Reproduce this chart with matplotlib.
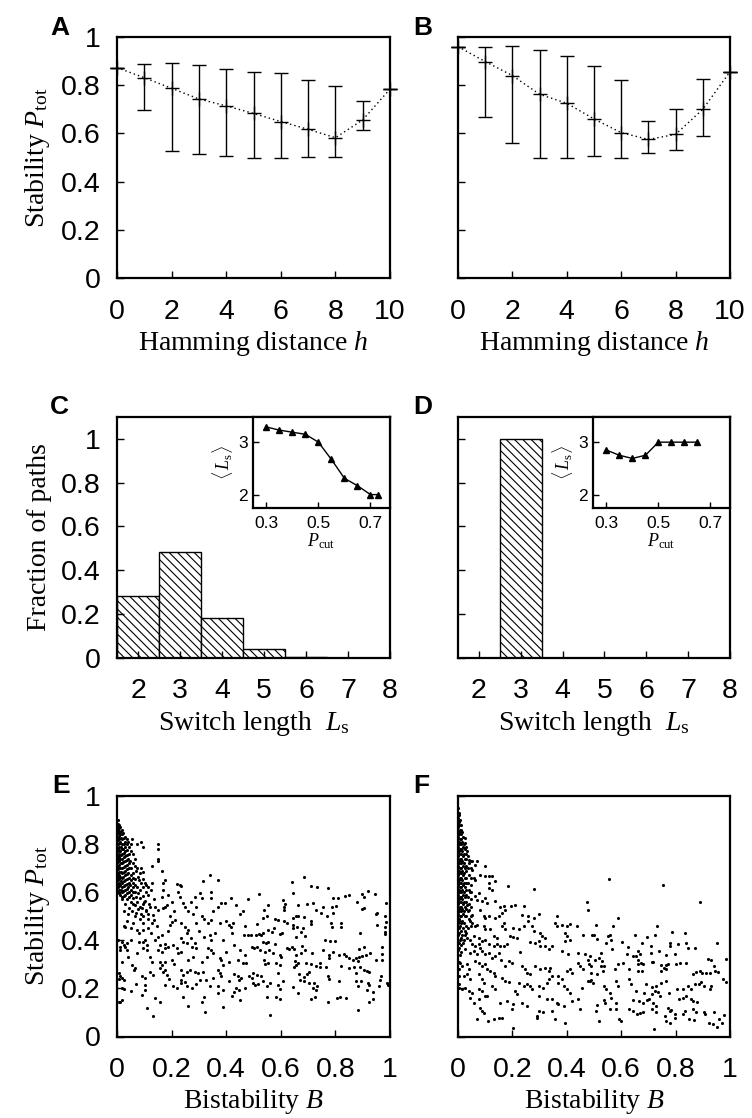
import numpy as np
import matplotlib
matplotlib.use("Agg")
import matplotlib.pyplot as plt

plt.rcParams['font.family'] = ['Liberation Sans', 'DejaVu Sans']
plt.rcParams['mathtext.fontset'] = 'custom'
plt.rcParams['mathtext.rm'] = 'Liberation Serif'
plt.rcParams['mathtext.it'] = 'Liberation Serif:italic'
plt.rcParams['hatch.linewidth'] = 0.8

# ---- data ----
hamming = [0, 1, 2, 3, 4, 5, 6, 7, 8, 9, 10]
a_mean = [0.873, 0.831, 0.787, 0.743, 0.714, 0.683, 0.649, 0.617, 0.582, 0.656, 0.784]
a_top = [0.873, 0.888, 0.893, 0.884, 0.867, 0.856, 0.852, 0.822, 0.798, 0.736, 0.784]
a_bot = [0.873, 0.697, 0.528, 0.515, 0.508, 0.499, 0.497, 0.503, 0.503, 0.614, 0.784]
b_mean = [0.960, 0.898, 0.840, 0.762, 0.725, 0.660, 0.603, 0.575, 0.596, 0.700, 0.856]
b_top = [0.960, 0.960, 0.964, 0.946, 0.921, 0.881, 0.822, 0.651, 0.700, 0.827, 0.856]
b_bot = [0.960, 0.667, 0.561, 0.497, 0.497, 0.506, 0.499, 0.517, 0.531, 0.589, 0.856]

switch_len = [2, 3, 4, 5, 6, 7]
c_frac = [0.283, 0.484, 0.179, 0.041, 0.004, 0.0]
d_frac = [0.0, 1.0, 0.0, 0.0, 0.0, 0.0]

p_cut_c = [0.3, 0.35, 0.4, 0.45, 0.5, 0.55, 0.6, 0.65, 0.7, 0.73]
ls_c = [3.29, 3.23, 3.19, 3.15, 3.0, 2.67, 2.31, 2.17, 2.0, 2.0]
p_cut_d = [0.3, 0.35, 0.4, 0.45, 0.5, 0.55, 0.6, 0.65]
ls_d = [2.85, 2.75, 2.69, 2.75, 3.0, 3.0, 3.0, 3.0]

e_cluster = [
    (0.002,0.90),(0.003,0.885),(0.002,0.87),(0.004,0.86),(0.002,0.845),(0.003,0.83),(0.002,0.815),(0.004,0.80),
    (0.002,0.785),(0.003,0.77),(0.002,0.755),(0.004,0.74),(0.002,0.725),(0.003,0.71),(0.002,0.695),(0.004,0.68),
    (0.002,0.665),(0.003,0.65),(0.002,0.635),(0.004,0.62),(0.002,0.605),
    (0.007,0.88),(0.008,0.865),(0.007,0.85),(0.009,0.835),(0.007,0.82),(0.008,0.805),(0.007,0.79),(0.009,0.775),
    (0.007,0.76),(0.008,0.745),(0.007,0.73),(0.009,0.715),(0.007,0.70),(0.008,0.685),(0.007,0.67),(0.009,0.655),
    (0.007,0.64),(0.008,0.625),(0.007,0.61),(0.009,0.595),
    (0.012,0.87),(0.013,0.855),(0.012,0.84),(0.014,0.825),(0.012,0.81),(0.013,0.79),(0.012,0.77),(0.014,0.755),
    (0.012,0.74),(0.013,0.72),(0.012,0.70),(0.014,0.685),(0.012,0.665),(0.013,0.645),(0.012,0.63),(0.014,0.61),(0.012,0.59),
    (0.017,0.86),(0.019,0.84),(0.018,0.82),(0.017,0.80),(0.019,0.78),(0.018,0.76),(0.017,0.74),(0.019,0.72),
    (0.018,0.70),(0.017,0.68),(0.019,0.66),(0.018,0.64),(0.017,0.62),(0.019,0.60),(0.018,0.58),
    (0.023,0.845),(0.025,0.825),(0.024,0.80),(0.023,0.78),(0.025,0.765),(0.024,0.745),(0.023,0.725),(0.025,0.705),
    (0.024,0.685),(0.023,0.665),(0.025,0.645),(0.024,0.625),(0.023,0.605),(0.025,0.585),
    (0.029,0.83),(0.031,0.81),(0.03,0.79),(0.029,0.77),(0.031,0.75),(0.03,0.73),(0.029,0.71),(0.031,0.69),
    (0.03,0.67),(0.029,0.65),(0.031,0.63),(0.03,0.61),(0.029,0.59),
    (0.036,0.82),(0.037,0.80),(0.035,0.775),(0.037,0.755),(0.036,0.735),(0.035,0.715),(0.037,0.695),(0.036,0.675),
    (0.035,0.655),(0.037,0.635),(0.036,0.615),(0.035,0.595),(0.037,0.57),
    (0.042,0.81),(0.044,0.79),(0.043,0.76),(0.042,0.74),(0.044,0.72),(0.043,0.70),(0.042,0.68),(0.044,0.66),
    (0.043,0.64),(0.042,0.62),(0.044,0.60),(0.043,0.58),
    (0.05,0.80),(0.052,0.77),(0.049,0.73),(0.051,0.70),(0.05,0.67),(0.052,0.65),(0.049,0.63),(0.051,0.61),(0.05,0.59),(0.052,0.56),
    (0.058,0.76),(0.06,0.72),(0.057,0.68),(0.059,0.66),(0.058,0.64),(0.06,0.62),(0.057,0.60),(0.059,0.575),(0.058,0.55),
    (0.066,0.74),(0.068,0.69),(0.065,0.655),(0.067,0.63),(0.066,0.60),(0.068,0.58),(0.065,0.545),
    (0.075,0.70),(0.077,0.665),(0.074,0.62),(0.076,0.595),(0.075,0.56),(0.077,0.53),
    (0.085,0.68),(0.087,0.64),(0.084,0.61),(0.086,0.575),(0.085,0.54),(0.087,0.51),
    (0.095,0.655),(0.097,0.62),(0.094,0.585),(0.096,0.55),(0.095,0.50),
    (0.105,0.63),(0.107,0.60),(0.104,0.565),(0.106,0.525),
    (0.115,0.59),(0.117,0.55),(0.114,0.51),
]
e_spread = [
    (0.055,0.82),(0.073,0.80),(0.088,0.81),(0.097,0.79),(0.15,0.80),(0.15,0.78),(0.15,0.74),(0.15,0.73),
    (0.127,0.71),(0.164,0.69),(0.088,0.70),(0.097,0.685),(0.067,0.71),(0.079,0.65),(0.176,0.65),(0.17,0.64),
    (0.103,0.64),(0.115,0.62),(0.127,0.64),(0.125,0.61),(0.218,0.635),(0.23,0.63),(0.236,0.625),
    (0.315,0.645),(0.34,0.67),(0.37,0.65),(0.17,0.61),(0.164,0.58),(0.188,0.59),(0.224,0.60),(0.23,0.58),
    (0.242,0.555),(0.285,0.58),(0.303,0.595),(0.31,0.575),(0.345,0.60),(0.345,0.575),(0.48,0.57),
    (0.38,0.555),(0.394,0.557),(0.37,0.54),(0.418,0.575),(0.436,0.547),(0.248,0.54),(0.26,0.52),(0.279,0.51),
    (0.182,0.547),(0.17,0.533),(0.176,0.54),(0.14,0.54),(0.15,0.525),(0.133,0.505),(0.036,0.48),(0.024,0.46),
    (0.03,0.455),(0.31,0.50),(0.32,0.49),(0.345,0.485),(0.333,0.47),(0.376,0.47),(0.40,0.48),(0.412,0.465),
    (0.418,0.457),(0.424,0.47),(0.45,0.51),(0.46,0.52),(0.467,0.42),(0.48,0.42),(0.073,0.443),(0.079,0.43),
    (0.097,0.443),(0.115,0.49),(0.127,0.47),(0.137,0.485),(0.194,0.5),(0.2,0.478),(0.212,0.485),(0.194,0.464),
    (0.236,0.47),(0.248,0.457),(0.26,0.443),(0.255,0.43),(0.32,0.415),(0.34,0.42),(0.345,0.40),(0.018,0.395),
    (0.024,0.38),(0.036,0.388),(0.079,0.395),(0.097,0.395),(0.103,0.40),(0.11,0.38),(0.15,0.415),(0.164,0.42),
    (0.158,0.38),(0.176,0.385),(0.188,0.374),(0.206,0.38),(0.236,0.41),(0.242,0.395),(0.255,0.388),(0.273,0.374),
    (0.285,0.388),(0.29,0.367),(0.03,0.374),(0.036,0.36),(0.073,0.346),(0.097,0.367),(0.11,0.36),(0.15,0.36),
    (0.164,0.353),(0.176,0.367),(0.218,0.367),(0.224,0.346),(0.236,0.353),(0.333,0.367),(0.345,0.36),(0.352,0.346),
    (0.376,0.325),(0.382,0.318),(0.388,0.298),(0.412,0.31),(0.442,0.318),(0.46,0.305),(0.473,0.305),(0.055,0.298),
    (0.061,0.277),(0.067,0.284),(0.158,0.31),(0.164,0.298),(0.176,0.31),(0.158,0.284),(0.17,0.27),(0.176,0.277),
    (0.236,0.277),(0.242,0.256),(0.255,0.27),(0.267,0.277),(0.285,0.27),(0.297,0.263),(0.315,0.27),(0.37,0.277),
    (0.376,0.263),(0.382,0.25),(0.018,0.242),(0.024,0.235),(0.09,0.25),(0.103,0.242),(0.133,0.256),(0.182,0.256),
    (0.236,0.235),(0.248,0.228),(0.236,0.222),(0.303,0.235),(0.327,0.235),(0.352,0.242),(0.442,0.25),(0.448,0.235),
    (0.455,0.242),(0.485,0.25),(0.176,0.215),(0.206,0.208),(0.255,0.208),(0.273,0.2),(0.37,0.208),(0.388,0.194),
    (0.436,0.2),(0.43,0.187),(0.448,0.194),(0.103,0.215),(0.103,0.194),(0.018,0.2),(0.024,0.197),(0.09,0.173),
    (0.14,0.16),(0.158,0.143),(0.242,0.166),(0.31,0.145),(0.32,0.166),(0.37,0.18),(0.26,0.127),(0.109,0.118),
    (0.133,0.086),(0.322,0.10),(0.388,0.122),(0.006,0.145),(0.018,0.152),(0.006,0.263),(0.012,0.25),
    (0.005,0.40),(0.011,0.372),(0.006,0.24),(0.012,0.143),
    (0.02,0.57),(0.03,0.55),(0.045,0.535),(0.055,0.52),(0.065,0.50),(0.04,0.51),(0.025,0.52),(0.085,0.49),
    (0.095,0.47),(0.06,0.47),(0.05,0.45),(0.115,0.45),(0.125,0.43),(0.105,0.52),(0.12,0.54),(0.135,0.57),
    (0.1,0.56),(0.09,0.535),(0.07,0.515),(0.145,0.46),(0.185,0.44),(0.2,0.56),(0.21,0.52),(0.27,0.56),
    (0.29,0.54),(0.3,0.44),(0.36,0.43),(0.39,0.40),(0.43,0.38),(0.45,0.36),(0.4,0.35),(0.47,0.34),
    (0.26,0.32),(0.28,0.33),(0.31,0.31),(0.33,0.33),(0.2,0.32),(0.21,0.30),(0.12,0.33),(0.13,0.31),
    (0.04,0.33),(0.02,0.31),(0.01,0.36),(0.05,0.40),(0.14,0.40),(0.27,0.41),(0.42,0.43),(0.35,0.52),
    (0.29,0.47),(0.47,0.46),(0.43,0.26),(0.41,0.23),(0.34,0.21),(0.29,0.22),(0.22,0.20),(0.19,0.24),
    (0.12,0.27),(0.07,0.22),(0.05,0.19),(0.45,0.15),(0.42,0.17),(0.47,0.2),
    (0.641,0.641),(0.684,0.662),(0.645,0.598),(0.709,0.626),(0.733,0.62),(0.772,0.616),(0.52,0.591),
    (0.608,0.568),(0.615,0.55),(0.663,0.548),(0.696,0.551),(0.718,0.554),(0.793,0.575),(0.809,0.575),
    (0.835,0.584),(0.851,0.587),(0.878,0.561),(0.899,0.591),(0.918,0.605),(0.905,0.582),(0.945,0.591),
    (0.984,0.554),(0.537,0.524),(0.554,0.547),(0.548,0.499),(0.536,0.492),(0.611,0.526),(0.612,0.54),
    (0.645,0.492),(0.657,0.499),(0.663,0.501),(0.73,0.526),(0.754,0.54),(0.788,0.537),(0.802,0.543),
    (0.748,0.512),(0.769,0.499),(0.79,0.515),(0.684,0.495),(0.578,0.488),(0.59,0.485),(0.612,0.48),
    (0.623,0.474),(0.709,0.48),(0.709,0.468),(0.645,0.464),(0.659,0.457),(0.645,0.45),(0.784,0.471),
    (0.788,0.457),(0.821,0.474),(0.821,0.457),(0.899,0.529),(0.905,0.533),(0.954,0.515),(0.948,0.509),
    (0.982,0.499),(0.984,0.478),(0.981,0.457),(0.982,0.436),(0.981,0.427),(0.954,0.464),(0.512,0.467),
    (0.509,0.422),(0.554,0.443),(0.566,0.436),(0.575,0.45),(0.52,0.427),(0.527,0.422),(0.533,0.429),
    (0.49,0.42),(0.596,0.427),(0.605,0.429),(0.675,0.436),(0.681,0.45),(0.687,0.418),(0.657,0.415),
    (0.763,0.4),(0.781,0.397),(0.8,0.397),(0.891,0.432),(0.536,0.395),(0.545,0.388),(0.554,0.395),
    (0.578,0.384),(0.493,0.374),(0.502,0.367),(0.512,0.374),(0.524,0.36),(0.542,0.353),(0.557,0.36),
    (0.63,0.363),(0.641,0.374),(0.647,0.363),(0.621,0.367),(0.678,0.378),(0.687,0.36),(0.754,0.36),
    (0.778,0.339),(0.778,0.325),(0.79,0.353),(0.815,0.339),(0.83,0.342),(0.839,0.335),(0.851,0.325),
    (0.866,0.318),(0.875,0.325),(0.885,0.332),(0.888,0.363),(0.905,0.374),(0.899,0.335),(0.911,0.337),
    (0.926,0.346),(0.97,0.374),(0.97,0.343),(0.972,0.318),(0.948,0.317),(0.572,0.346),(0.596,0.339),
    (0.602,0.332),(0.657,0.339),(0.675,0.349),(0.715,0.346),(0.538,0.318),(0.542,0.302),(0.554,0.307),
    (0.584,0.305),(0.651,0.312),(0.657,0.298),(0.663,0.305),(0.648,0.291),(0.693,0.305),(0.712,0.302),
    (0.73,0.294),(0.745,0.305),(0.745,0.291),(0.766,0.291),(0.821,0.295),(0.851,0.284),(0.869,0.291),
    (0.881,0.312),(0.891,0.291),(0.905,0.277),(0.917,0.273),(0.923,0.27),(0.875,0.266),(0.499,0.266),
    (0.512,0.256),(0.596,0.298),(0.59,0.266),(0.666,0.26),(0.696,0.26),(0.703,0.27),(0.685,0.249),
    (0.772,0.253),(0.493,0.245),(0.527,0.252),(0.536,0.231),(0.497,0.222),(0.505,0.215),(0.518,0.217),
    (0.56,0.224),(0.548,0.208),(0.608,0.229),(0.672,0.235),(0.684,0.229),(0.703,0.224),(0.723,0.224),
    (0.778,0.238),(0.815,0.229),(0.875,0.229),(0.894,0.231),(0.918,0.222),(0.923,0.215),(0.966,0.252),
    (0.962,0.235),(0.99,0.224),(0.993,0.215),(0.59,0.215),(0.596,0.197),(0.645,0.204),(0.663,0.18),
    (0.718,0.2),(0.733,0.208),(0.73,0.194),(0.881,0.208),(0.914,0.194),(0.939,0.187),(0.961,0.208),
    (0.551,0.163),(0.582,0.166),(0.596,0.155),(0.712,0.155),(0.727,0.163),(0.772,0.143),(0.806,0.159),
    (0.818,0.163),(0.84,0.159),(0.922,0.143),(0.939,0.155),(0.881,0.111),(0.56,0.09),
]

f_cluster = [
    (0.001,0.95),(0.002,0.93),(0.001,0.91),(0.002,0.89),(0.001,0.87),(0.002,0.85),(0.001,0.83),(0.002,0.81),
    (0.001,0.79),(0.002,0.77),(0.001,0.75),(0.002,0.73),(0.001,0.71),(0.002,0.69),(0.001,0.67),(0.002,0.65),
    (0.001,0.63),(0.002,0.61),(0.001,0.59),(0.002,0.57),(0.001,0.55),(0.002,0.53),(0.001,0.51),(0.002,0.49),
    (0.001,0.47),(0.002,0.45),(0.001,0.42),(0.002,0.39),(0.001,0.36),
    (0.005,0.92),(0.006,0.90),(0.005,0.88),(0.006,0.86),(0.005,0.84),(0.006,0.82),(0.005,0.80),(0.006,0.78),
    (0.005,0.76),(0.006,0.74),(0.005,0.72),(0.006,0.70),(0.005,0.68),(0.006,0.66),(0.005,0.64),(0.006,0.62),
    (0.005,0.60),(0.006,0.58),(0.005,0.56),(0.006,0.54),(0.005,0.52),(0.006,0.50),(0.005,0.48),(0.006,0.46),
    (0.005,0.43),(0.006,0.40),(0.005,0.37),(0.006,0.34),(0.005,0.31),
    (0.010,0.88),(0.011,0.86),(0.010,0.84),(0.011,0.82),(0.010,0.80),(0.011,0.78),(0.010,0.76),(0.011,0.74),
    (0.010,0.72),(0.011,0.70),(0.010,0.68),(0.011,0.66),(0.010,0.64),(0.011,0.62),(0.010,0.60),(0.011,0.58),
    (0.010,0.56),(0.011,0.54),(0.010,0.52),(0.011,0.50),(0.010,0.47),(0.011,0.44),(0.010,0.41),(0.011,0.38),(0.010,0.35),
    (0.016,0.85),(0.017,0.83),(0.016,0.81),(0.017,0.79),(0.016,0.77),(0.017,0.75),(0.016,0.73),(0.017,0.71),
    (0.016,0.69),(0.017,0.67),(0.016,0.65),(0.017,0.63),(0.016,0.61),(0.017,0.59),(0.016,0.57),(0.017,0.55),
    (0.016,0.53),(0.017,0.51),(0.016,0.48),(0.017,0.45),(0.016,0.42),(0.017,0.39),
    (0.023,0.80),(0.024,0.78),(0.023,0.76),(0.024,0.74),(0.023,0.72),(0.024,0.70),(0.023,0.68),(0.024,0.66),
    (0.023,0.64),(0.024,0.62),(0.023,0.60),(0.024,0.58),(0.023,0.56),(0.024,0.54),(0.023,0.52),(0.024,0.50),
    (0.023,0.47),(0.024,0.44),(0.023,0.40),
    (0.030,0.79),(0.031,0.76),(0.030,0.74),(0.031,0.71),(0.030,0.69),(0.031,0.66),(0.030,0.64),(0.031,0.61),
    (0.030,0.59),(0.031,0.56),(0.030,0.53),(0.031,0.50),(0.030,0.46),(0.031,0.43),
    (0.038,0.75),(0.039,0.72),(0.038,0.70),(0.039,0.67),(0.038,0.64),(0.039,0.61),(0.038,0.58),(0.039,0.55),
    (0.038,0.52),(0.039,0.49),(0.038,0.45),
    (0.047,0.73),(0.048,0.70),(0.047,0.66),(0.048,0.63),(0.047,0.60),(0.048,0.57),(0.047,0.54),(0.048,0.50),(0.047,0.46),
    (0.003,0.28),(0.002,0.25),(0.003,0.22),(0.002,0.20),
]
f_spread = [
    (0.027,0.825),(0.027,0.805),(0.021,0.784),(0.033,0.77),(0.039,0.735),(0.051,0.728),(0.064,0.714),(0.07,0.728),
    (0.1,0.707),(0.082,0.673),(0.098,0.666),(0.113,0.666),(0.125,0.668),(0.051,0.693),(0.057,0.659),(0.064,0.652),
    (0.113,0.638),(0.137,0.645),(0.113,0.617),(0.125,0.61),(0.183,0.624),(0.281,0.613),(0.045,0.6),(0.076,0.597),
    (0.064,0.583),(0.07,0.569),(0.088,0.562),(0.1,0.576),(0.106,0.555),(0.137,0.562),(0.155,0.539),(0.168,0.541),
    (0.196,0.544),(0.208,0.548),(0.241,0.541),(0.473,0.558),(0.477,0.528),(0.033,0.548),(0.039,0.528),(0.051,0.507),
    (0.082,0.528),(0.094,0.5),(0.1,0.493),(0.113,0.503),(0.137,0.493),(0.149,0.503),(0.161,0.514),(0.174,0.528),
    (0.235,0.507),(0.259,0.5),(0.278,0.493),(0.296,0.511),(0.363,0.5),(0.045,0.479),(0.051,0.472),(0.064,0.459),
    (0.07,0.465),(0.094,0.459),(0.1,0.445),(0.119,0.445),(0.161,0.459),(0.168,0.472),(0.174,0.445),(0.204,0.452),
    (0.223,0.445),(0.241,0.459),(0.259,0.479),(0.272,0.459),(0.278,0.438),(0.302,0.431),(0.308,0.417),(0.32,0.41),
    (0.357,0.472),(0.363,0.459),(0.382,0.465),(0.4,0.459),(0.412,0.468),(0.437,0.461),(0.394,0.431),(0.4,0.417),
    (0.412,0.403),(0.394,0.396),(0.461,0.42),(0.492,0.42),(0.027,0.424),(0.033,0.41),(0.045,0.403),(0.057,0.417),
    (0.076,0.41),(0.088,0.396),(0.1,0.403),(0.131,0.417),(0.143,0.41),(0.192,0.417),(0.204,0.414),(0.216,0.41),
    (0.051,0.383),(0.064,0.376),(0.076,0.383),(0.082,0.369),(0.113,0.383),(0.131,0.376),(0.143,0.383),(0.155,0.376),
    (0.168,0.378),(0.18,0.383),(0.265,0.392),(0.284,0.39),(0.296,0.396),(0.302,0.376),(0.32,0.378),(0.333,0.362),
    (0.345,0.376),(0.027,0.362),(0.045,0.348),(0.057,0.355),(0.07,0.341),(0.088,0.355),(0.1,0.341),(0.113,0.348),
    (0.125,0.327),(0.137,0.334),(0.149,0.348),(0.159,0.32),(0.229,0.351),(0.382,0.355),(0.406,0.341),(0.443,0.348),
    (0.467,0.341),(0.479,0.32),(0.486,0.334),(0.009,0.307),(0.015,0.293),(0.033,0.3),(0.039,0.279),(0.064,0.314),
    (0.076,0.307),(0.088,0.293),(0.1,0.3),(0.106,0.279),(0.119,0.272),(0.131,0.265),(0.137,0.251),(0.186,0.314),
    (0.198,0.307),(0.174,0.293),(0.235,0.293),(0.247,0.279),(0.253,0.265),(0.265,0.258),(0.284,0.293),(0.302,0.279),
    (0.32,0.286),(0.333,0.272),(0.339,0.286),(0.345,0.251),(0.369,0.251),(0.382,0.238),(0.4,0.272),(0.412,0.279),
    (0.418,0.265),(0.443,0.307),(0.449,0.293),(0.461,0.279),(0.482,0.3),(0.486,0.231),(0.021,0.251),(0.033,0.258),
    (0.045,0.238),(0.076,0.258),(0.088,0.238),(0.094,0.224),(0.161,0.244),(0.174,0.231),(0.186,0.227),(0.223,0.224),
    (0.241,0.21),(0.253,0.217),(0.265,0.21),(0.272,0.196),(0.296,0.21),(0.314,0.203),(0.327,0.224),(0.333,0.238),
    (0.369,0.224),(0.388,0.21),(0.4,0.196),(0.455,0.203),(0.479,0.231),(0.015,0.196),(0.027,0.203),(0.039,0.189),
    (0.051,0.182),(0.076,0.196),(0.088,0.189),(0.1,0.168),(0.125,0.21),(0.137,0.196),(0.21,0.189),(0.216,0.175),
    (0.045,0.162),(0.057,0.141),(0.076,0.155),(0.106,0.168),(0.155,0.141),(0.18,0.148),(0.204,0.134),(0.235,0.141),
    (0.253,0.127),(0.296,0.168),(0.327,0.155),(0.345,0.155),(0.363,0.141),(0.369,0.134),(0.388,0.127),(0.412,0.182),
    (0.418,0.148),(0.443,0.155),(0.449,0.113),(0.082,0.12),(0.088,0.106),(0.094,0.099),(0.198,0.113),(0.296,0.106),
    (0.314,0.102),(0.345,0.106),(0.29,0.086),(0.29,0.075),(0.07,0.072),(0.112,0.065),(0.131,0.072),(0.149,0.075),
    (0.161,0.075),(0.357,0.072),(0.394,0.058),(0.204,0.037),
    (0.556,0.655),(0.754,0.631),(0.891,0.559),(0.587,0.493),(0.569,0.461),(0.508,0.465),(0.733,0.461),(0.724,0.421),
    (0.696,0.413),(0.651,0.421),(0.499,0.421),(0.511,0.406),(0.551,0.417),(0.563,0.401),(0.557,0.421),(0.545,0.39),
    (0.566,0.365),(0.603,0.394),(0.675,0.39),(0.709,0.376),(0.787,0.434),(0.833,0.431),(0.778,0.39),(0.781,0.378),
    (0.809,0.383),(0.839,0.387),(0.845,0.369),(0.87,0.369),(0.954,0.387),(0.624,0.372),(0.62,0.341),(0.642,0.334),
    (0.653,0.334),(0.663,0.355),(0.669,0.341),(0.663,0.318),(0.672,0.307),(0.708,0.348),(0.739,0.355),(0.766,0.337),
    (0.797,0.343),(0.502,0.32),(0.518,0.327),(0.524,0.348),(0.53,0.314),(0.524,0.293),(0.536,0.293),(0.533,0.272),
    (0.49,0.293),(0.49,0.265),(0.59,0.3),(0.606,0.304),(0.578,0.279),(0.627,0.279),(0.661,0.3),(0.681,0.3),
    (0.712,0.309),(0.718,0.309),(0.748,0.296),(0.756,0.286),(0.766,0.296),(0.772,0.3),(0.8,0.3),(0.818,0.304),
    (0.839,0.307),(0.663,0.272),(0.678,0.272),(0.745,0.272),(0.763,0.279),(0.864,0.258),(0.876,0.268),(0.888,0.272),
    (0.898,0.265),(0.912,0.265),(0.927,0.265),(0.946,0.272),(0.955,0.268),(0.918,0.323),(0.93,0.32),(0.942,0.293),
    (0.984,0.323),(0.976,0.238),(0.985,0.227),(0.49,0.235),(0.497,0.224),(0.512,0.258),(0.536,0.21),(0.545,0.199),
    (0.557,0.18),(0.562,0.162),(0.582,0.231),(0.587,0.21),(0.63,0.238),(0.635,0.217),(0.69,0.217),(0.712,0.207),
    (0.727,0.21),(0.748,0.224),(0.763,0.231),(0.655,0.189),(0.685,0.18),(0.712,0.176),(0.724,0.189),(0.736,0.185),
    (0.742,0.168),(0.776,0.182),(0.806,0.199),(0.827,0.196),(0.845,0.21),(0.857,0.196),(0.873,0.217),(0.887,0.217),
    (0.893,0.227),(0.903,0.21),(0.926,0.196),(0.93,0.21),(0.839,0.168),(0.857,0.157),(0.863,0.148),(0.878,0.144),
    (0.812,0.157),(0.827,0.162),(0.512,0.13),(0.509,0.106),(0.536,0.152),(0.542,0.141),(0.582,0.141),(0.582,0.113),
    (0.645,0.152),(0.667,0.148),(0.681,0.141),(0.696,0.152),(0.703,0.157),(0.718,0.141),(0.727,0.127),(0.63,0.113),
    (0.642,0.106),(0.657,0.092),(0.669,0.097),(0.681,0.102),(0.715,0.116),(0.727,0.102),(0.772,0.12),(0.778,0.106),
    (0.784,0.11),(0.796,0.092),(0.833,0.106),(0.863,0.113),(0.875,0.102),(0.906,0.102),(0.909,0.092),(0.942,0.102),
    (0.96,0.072),(0.978,0.088),(0.76,0.086),(0.766,0.065),(0.778,0.058),(0.797,0.075),(0.592,0.072),(0.599,0.066),
    (0.72,0.033),(0.939,0.051),(0.951,0.041),(0.921,0.058),(0.972,0.058),(0.56,0.113),(0.827,0.092),(0.851,0.072),
    (0.869,0.069),(0.518,0.065),
]

W, H = 752, 1118
fig = plt.figure(figsize=(W / 100, H / 100), dpi=100)

def box(x0, y0, x1, y1):
    return [x0 / W, 1 - y1 / H, (x1 - x0) / W, (y1 - y0) / H]

TICK = 20.5
LAB = 20
serif = 'Liberation Serif'

def style(ax, size=TICK, lw=1.6, length=5, padx=15, pady=12):
    for s in ax.spines.values():
        s.set_linewidth(lw)
    ax.tick_params(direction='in', length=length, width=1, labelsize=size,
                   top=False, right=False)
    ax.tick_params(axis='x', pad=padx)
    ax.tick_params(axis='y', pad=pady)

def letter(x, y, s):
    fig.text(x / W, 1 - y / H, s, fontsize=19, fontweight='bold', ha='left', va='baseline')

# ---- A / B ----
rows = [(a_mean, a_top, a_bot, box(117, 37, 390, 278)), (b_mean, b_top, b_bot, box(458, 37, 730, 278))]
for i, (m, t, b, pos) in enumerate(rows):
    ax = fig.add_axes(pos)
    m = np.array(m); t = np.array(t); b = np.array(b)
    ax.plot(hamming, m, color='black', lw=1, ls=(0, (1, 2.2)), clip_on=False)
    ax.errorbar(hamming, m, yerr=[m - b, t - m], fmt='+', color='black', ms=10, mew=1,
                elinewidth=1, capsize=5, capthick=1, clip_on=False)
    ax.set_xlim(0, 10)
    ax.set_ylim(0, 1)
    ax.set_xticks([0, 2, 4, 6, 8, 10])
    ax.set_yticks([0, 0.2, 0.4, 0.6, 0.8, 1])
    ax.set_yticklabels(['0', '0.2', '0.4', '0.6', '0.8', '1'])
    style(ax)
    ax.set_xlabel('Hamming distance $h$', family=serif, fontsize=LAB, labelpad=3)
    if i == 0:
        ax.set_ylabel(r'Stability $P_{\rm tot}$', family=serif, fontsize=LAB, labelpad=6)
    else:
        ax.set_yticklabels([])
letter(50, 35, 'A')
letter(413, 35, 'B')

# ---- C / D ----
cd = [(c_frac, box(117, 417, 390, 657.5), box(253.3, 417, 390, 507.7), p_cut_c, ls_c),
      (d_frac, box(458, 417, 730, 657.5), box(593.3, 417, 730, 507.7), p_cut_d, ls_d)]
for i, (frac, pos, ipos, px, py) in enumerate(cd):
    ax = fig.add_axes(pos)
    ax.bar(switch_len, frac, width=1.0, facecolor='white', edgecolor='black', lw=1,
           hatch='\\\\\\\\')
    ax.set_xlim(1.5, 8)
    ax.set_ylim(0, 1.1)
    ax.set_xticks([2, 3, 4, 5, 6, 7, 8])
    ax.set_yticks([0, 0.2, 0.4, 0.6, 0.8, 1])
    ax.set_yticklabels(['0', '0.2', '0.4', '0.6', '0.8', '1'])
    style(ax)
    ax.set_xlabel(r'Switch length  $L_{\rm s}$', family=serif, fontsize=LAB, labelpad=3)
    if i == 0:
        ax.set_ylabel('Fraction of paths', family=serif, fontsize=LAB, labelpad=6)
    else:
        ax.set_yticklabels([])
    ins = fig.add_axes(ipos)
    ins.plot(px, py, color='black', lw=1, marker='^', ms=4)
    ins.set_xlim(0.25, 0.775)
    ins.set_ylim(1.75, 3.48)
    ins.set_xticks([0.3, 0.5, 0.7])
    ins.set_yticks([2, 3])
    style(ins, size=12.5, lw=1.6, length=4, padx=6, pady=4)
    ins.set_xlabel(r'$P_{\rm cut}$', fontsize=13, labelpad=0)
    ins.set_ylabel(r'$\langle\, L_{\rm s} \rangle$', fontsize=13, labelpad=2)
letter(50, 414, 'C')
letter(413, 414, 'D')

# ---- E / F ----
ef = [(e_cluster + e_spread, box(117, 796, 390, 1036.5)), (f_cluster + f_spread, box(458, 796, 730, 1036.5))]
for i, (pts, pos) in enumerate(ef):
    ax = fig.add_axes(pos)
    xs, ys = zip(*pts)
    ax.scatter(xs, ys, s=5, color='black', lw=0)
    ax.set_xlim(0, 1)
    ax.set_ylim(0, 1)
    ax.set_xticks([0, 0.2, 0.4, 0.6, 0.8, 1])
    ax.set_xticklabels(['0', '0.2', '0.4', '0.6', '0.8', '1'])
    ax.set_yticks([0, 0.2, 0.4, 0.6, 0.8, 1])
    ax.set_yticklabels(['0', '0.2', '0.4', '0.6', '0.8', '1'])
    style(ax)
    ax.set_xlabel('Bistability $B$', family=serif, fontsize=LAB, labelpad=3)
    if i == 0:
        ax.set_ylabel(r'Stability $P_{\rm tot}$', family=serif, fontsize=LAB, labelpad=6)
    else:
        ax.set_yticklabels([])
letter(52, 793, 'E')
letter(413, 793, 'F')

fig.savefig('out.png', dpi=100)
